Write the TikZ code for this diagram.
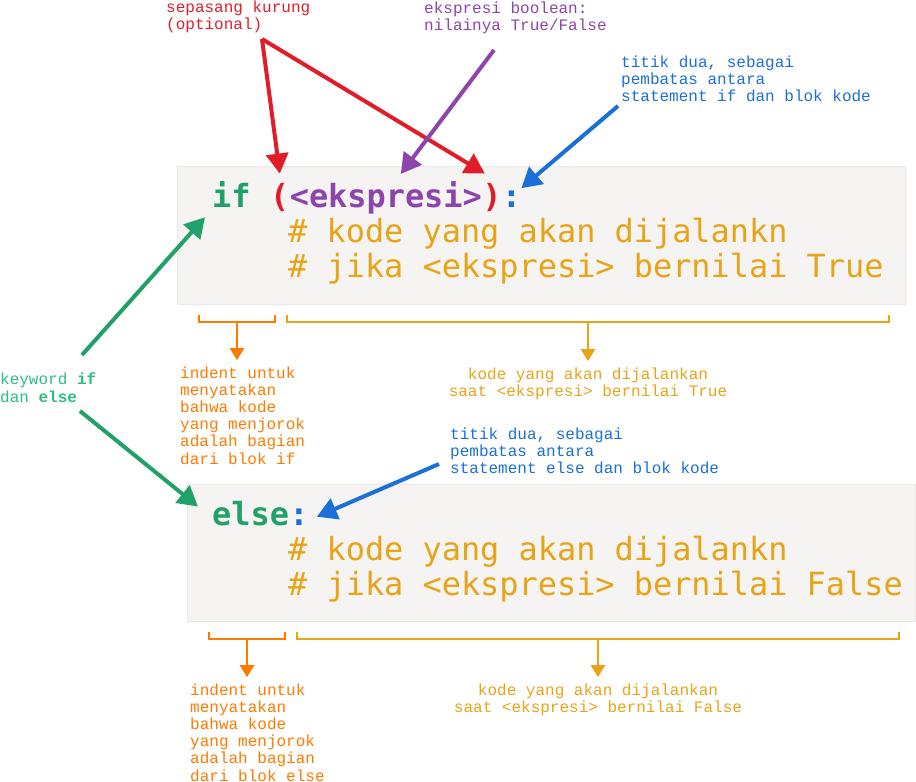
\documentclass[tikz,border=0pt]{standalone}
\usepackage{fontspec}
\setmonofont{Liberation Mono}
\newfontfamily\codefamily{DejaVu Sans Mono}
\usetikzlibrary{positioning, arrows.meta}

\definecolor{kurungred}{HTML}{E11D2A}
\definecolor{exprpurple}{HTML}{8E44AD}
\definecolor{colonblue}{HTML}{1B6FD9}
\definecolor{kwgreen}{HTML}{22A06A}
\definecolor{notegreen}{HTML}{2DBE7E}
\definecolor{indentorange}{HTML}{FF7A00}
\definecolor{commentgold}{HTML}{E8A317}
\definecolor{boxgray}{HTML}{F5F4F2}
\definecolor{boxline}{HTML}{EAE9E7}

\tikzset{
  codebox/.style={fill=boxgray, draw=boxline, line width=0.8pt},
  code/.style={font=\codefamily\fontsize{31.9}{35}\selectfont, inner sep=0pt},
  codebold/.style={font=\codefamily\bfseries\fontsize{31.9}{35}\selectfont, inner sep=0pt},
  note/.style={font=\ttfamily\fontsize{16}{17.2}\selectfont, inner sep=0pt, align=left, anchor=base west},
  callout/.style={line width=4pt, -{Triangle[length=20pt,width=22pt]}},
  pointer/.style={line width=2.5pt, -{Triangle[length=12pt,width=14pt]}, shorten >=6pt},
  bracket/.style={line width=2.5pt},
}

\begin{document}
\begin{tikzpicture}[x=1pt, y=-1pt]
   \useasboundingbox (0,0) rectangle (916,782);

   % blok if
   \draw[codebox] (177,166) rectangle (905,304);
   \node[codebold, text=kwgreen, anchor=base west] (kwif) at (212,207) {if};
   \node[codebold, text=kurungred, base right=19.2pt of kwif] (lpar) {(};
   \node[codebold, text=exprpurple, base right=0pt of lpar] (expr) {<ekspresi>};
   \node[codebold, text=kurungred, base right=0pt of expr] (rpar) {)};
   \node[codebold, text=colonblue, base right=0pt of rpar] (colon) {:};
   \node[code, text=commentgold, anchor=base west] (cmtif1) at (288,242) {\# kode yang akan dijalankn};
   \node[code, text=commentgold, anchor=base west] (cmtif2) at (288,277) {\# jika <ekspresi> bernilai True};

   % blok else
   \draw[codebox] (187,484) rectangle (915,621);
   \node[codebold, text=kwgreen, anchor=base west] (kwelse) at (212,525) {else};
   \node[codebold, text=colonblue, base right=0pt of kwelse] (colonelse) {:};
   \node[code, text=commentgold, anchor=base west] (cmtelse1) at (288,560) {\# kode yang akan dijalankn};
   \node[code, text=commentgold, anchor=base west] (cmtelse2) at (288,595) {\# jika <ekspresi> bernilai False};

   % keterangan (titik = baseline baris terakhir)
   \node[note, text=kurungred] (kurung) at (166,29.7) {sepasang kurung\\(optional)};
   \node[note, text=exprpurple] (boolnote) at (424,30.7) {ekspresi boolean:\\nilainya True/False};
   \node[note, text=colonblue] (colonnote) at (621,101.4) {titik dua, sebagai\\pembatas antara\\statement if dan blok kode};
   \node[note, text=notegreen] (kwnote) at (0,402) {keyword \textbf{if}\\dan \textbf{else}};
   \node[note, text=indentorange] (indentif) at (180,464) {indent untuk\\menyatakan\\bahwa kode\\yang menjorok\\adalah bagian\\dari blok if};
   \node[note, text=commentgold, align=center, anchor=base] (blokif) at (588,396.2) {kode yang akan dijalankan\\saat <ekspresi> bernilai True};
   \node[note, text=colonblue] (colonnote2) at (450,473.4) {titik dua, sebagai\\pembatas antara\\statement else dan blok kode};
   \node[note, text=indentorange] (indentelse) at (190,781) {indent untuk\\menyatakan\\bahwa kode\\yang menjorok\\adalah bagian\\dari blok else};
   \node[note, text=commentgold, align=center, anchor=base] (blokelse) at (598,712.2) {kode yang akan dijalankan\\saat <ekspresi> bernilai False};

   % panah
   \coordinate (kurungtail) at (262,39);
   \coordinate (booltail) at (494,50);
   \coordinate (colontail) at (618,106);
   \coordinate (kwtailif) at (82,355);
   \coordinate (kwtailelse) at (80,411);
   \coordinate (colontail2) at (439,464);
   \draw[callout, kurungred] (kurungtail) -- ([yshift=9pt]lpar.north);
   \draw[callout, kurungred] (kurungtail) -- ([xshift=-7pt,yshift=9pt]rpar.north);
   \draw[callout, exprpurple] (booltail) -- ([xshift=15pt,yshift=7pt]expr.north);
   \draw[callout, colonblue] (colontail) -- ([yshift=2pt]colon.north east);
   \draw[callout, kwgreen] (kwtailif) -- ([xshift=-7pt,yshift=-10pt]kwif.south west);
   \draw[callout, kwgreen] (kwtailelse) -- ([xshift=-14pt,yshift=-6pt]kwelse.north west);
   \draw[callout, colonblue] (colontail2) -- ([xshift=8pt]colonelse.east);

   % kurung kurawal
   \draw[bracket, indentorange] (199,315) |- (275,322) -- (275,315);
   \draw[bracket, commentgold] (287,315) |- (889,322) -- (889,315);
   \draw[bracket, indentorange] (209,632) |- (285,639) -- (285,632);
   \draw[bracket, commentgold] (297,632) |- (899,639) -- (899,632);
   \coordinate (indentmid) at (237,322);
   \coordinate (blokmid) at (588,322);
   \coordinate (indentmid2) at (247,639);
   \coordinate (blokmid2) at (598,639);
   \draw[pointer, indentorange] (indentmid) -- (indentmid |- indentif.north);
   \draw[pointer, commentgold] (blokmid) -- (blokmid |- blokif.north);
   \draw[pointer, indentorange] (indentmid2) -- (indentmid2 |- indentelse.north);
   \draw[pointer, commentgold] (blokmid2) -- (blokmid2 |- blokelse.north);

\end{tikzpicture}
\end{document}
